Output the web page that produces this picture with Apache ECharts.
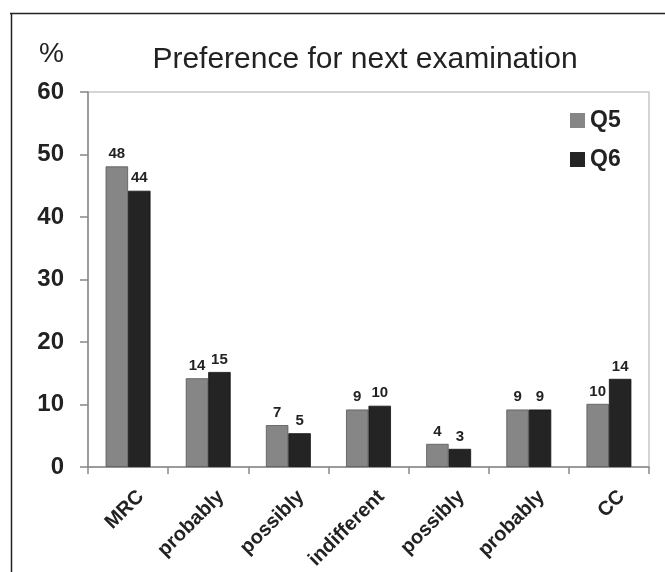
<!DOCTYPE html>
<html>
<head>
<meta charset="utf-8">
<script src="https://cdn.jsdelivr.net/npm/echarts@6/dist/echarts.min.js"></script>
<style>
html,body{margin:0;padding:0;background:#fff;}
#chart{width:665px;height:572px;}
</style>
</head>
<body>
<div id="chart"></div>
<script>
var categories = ['MRC', 'probably', 'possibly', 'indifferent', 'possibly', 'probably', 'CC'];
var q5Values = [48.1, 14.2, 6.7, 9.2, 3.7, 9.2, 10.1];
var q6Values = [44.2, 15.2, 5.4, 9.8, 2.9, 9.2, 14.1];
var yTicks = [0, 10, 20, 30, 40, 50, 60];

var FONT = 'Arial, "Liberation Sans", sans-serif';
var chart = echarts.init(document.getElementById('chart'));
var labelCfg = {
  show: true,
  position: 'top',
  distance: 5,
  fontFamily: FONT,
  fontWeight: 'bold',
  fontSize: 15,
  color: '#222',
  formatter: function (p) { return Math.round(p.value); }
};
chart.setOption({
  animation: false,
  backgroundColor: '#fff',
  textStyle: { fontFamily: FONT },
  title: {
    text: 'Preference for next examination',
    left: 360, top: 40, textAlign: 'center',
    textStyle: { fontSize: 30, fontWeight: 'normal', color: '#222', fontFamily: FONT }
  },
  graphic: [
    { type: 'line', shape: { x1: 10, y1: 13.5, x2: 665, y2: 13.5 }, style: { stroke: '#222', lineWidth: 1.5 } },
    { type: 'line', shape: { x1: 11.5, y1: 13, x2: 11.5, y2: 572 }, style: { stroke: '#222', lineWidth: 1.5 } },
    { type: 'text', left: 39, top: 40, style: { text: '%', fontSize: 28, fill: '#222', fontFamily: FONT } }
  ],
  legend: {
    orient: 'vertical',
    left: 565, top: 104,
    itemWidth: 15, itemHeight: 15,
    itemGap: 16,
    icon: 'rect',
    itemStyle: { borderWidth: 0 },
    textStyle: { fontSize: 23, fontWeight: 'bold', color: '#222', fontFamily: FONT },
    data: ['Q5', 'Q6']
  },
  grid: {
    left: 88, right: 16, top: 92, bottom: 105,
    outerBoundsMode: 'none', containLabel: false,
    show: true, borderColor: '#c8c8c8', borderWidth: 1.5
  },
  xAxis: {
    type: 'category',
    data: categories,
    axisLine: { lineStyle: { color: '#888', width: 1.5 } },
    axisTick: { show: true, length: 7, lineStyle: { color: '#888', width: 1.5 } },
    axisLabel: {
      rotate: 45, margin: 14, interval: 0,
      verticalAlign: 'top', lineHeight: 36,
      fontSize: 20, fontWeight: 'bold', color: '#222'
    }
  },
  yAxis: {
    type: 'value',
    min: yTicks[0], max: yTicks[yTicks.length - 1], interval: 10,
    splitLine: { show: false },
    axisLine: { show: true, lineStyle: { color: '#888', width: 1.5 } },
    axisTick: { show: true, length: 8, lineStyle: { color: '#888', width: 1.5 } },
    axisLabel: { margin: 24, fontSize: 24, fontWeight: 'bold', color: '#222' }
  },
  series: [
    {
      name: 'Q5', type: 'bar', data: q5Values,
      barGap: '0%', barCategoryGap: '44%',
      itemStyle: { color: '#868686', borderColor: '#555', borderWidth: 0.8 },
      label: labelCfg
    },
    {
      name: 'Q6', type: 'bar', data: q6Values,
      itemStyle: { color: '#242424', borderColor: '#111', borderWidth: 0.8 },
      label: labelCfg
    }
  ]
});
</script>
</body>
</html>
